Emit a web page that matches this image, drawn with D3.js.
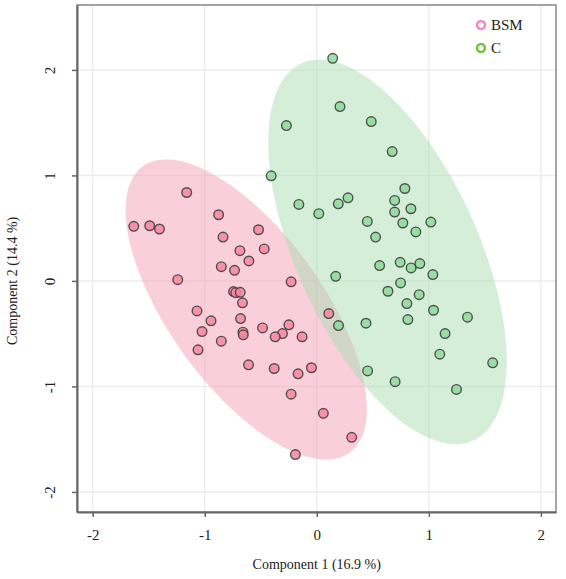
<!DOCTYPE html>
<html>
<head>
<meta charset="utf-8">
<script src="https://cdn.jsdelivr.net/npm/d3@7"></script>
<style>
  body { margin: 0; background: #fff; }
  text { font-family: "Liberation Serif", "DejaVu Serif", serif; fill: #222; }
</style>
</head>
<body>
<svg id="chart" width="566" height="579"></svg>
<script>
// group scores
var bsmX = [-1.161,-0.876,-1.633,-1.491,-1.404,-0.520,-0.837,-0.469,-0.686,-0.606,
            -0.852,-0.734,-1.241,-0.229,-0.743,-0.723,-0.683,-0.663,-1.069,-0.944,
            -0.680, 0.107,-1.024,-0.659,-0.656,-0.484,-0.249,-0.306,-0.371,-0.131,
            -0.852,-1.060,-0.609,-0.380,-0.048,-0.167,-0.229, 0.059, 0.312,-0.191];
var bsmY = [ 0.838, 0.627, 0.517, 0.523, 0.492, 0.485, 0.416, 0.303, 0.287, 0.189,
             0.135, 0.100, 0.012,-0.009,-0.101,-0.111,-0.108,-0.208,-0.284,-0.378,
            -0.357,-0.309,-0.480,-0.486,-0.511,-0.445,-0.416,-0.499,-0.530,-0.530,
            -0.571,-0.653,-0.795,-0.830,-0.823,-0.880,-1.073,-1.255,-1.482,-1.646];
var cX = [ 0.142, 0.207,-0.271, 0.486, 0.673,-0.407, 0.786,-0.160, 0.018, 0.192,
           0.279, 0.695, 0.840, 0.695, 0.451, 0.768, 1.018, 0.884, 0.525, 0.561,
           0.744, 0.842, 0.920, 1.036, 0.169, 0.748, 0.635, 0.914, 0.804, 1.042,
           1.345, 0.439, 0.813, 0.194, 1.145, 1.098, 1.570, 0.454, 0.699, 1.247];
var cY = [ 2.110, 1.652, 1.472, 1.510, 1.226, 0.996, 0.876, 0.725, 0.637, 0.731,
           0.788, 0.763, 0.684, 0.653, 0.564, 0.549, 0.558, 0.464, 0.416, 0.145,
           0.176, 0.123, 0.164, 0.060, 0.044,-0.019,-0.098,-0.130,-0.215,-0.278,
          -0.344,-0.401,-0.366,-0.423,-0.499,-0.694,-0.776,-0.853,-0.955,-1.028];

var groups = ["BSM", "C"];
var ticks = [-2, -1, 0, 1, 2];

var groupStyle = {
  BSM: {fill: "#f4869f", ell: "#f2a0b6", legend: "#f58bbf"},
  C:   {fill: "#8fd99a", ell: "#a9deb2", legend: "#7cc242"}
};

var svg = d3.select("#chart"),
    margin = {top: 5, right: 10, bottom: 67, left: 77},
    width = +svg.attr("width"),
    height = +svg.attr("height");

var x = d3.scaleLinear()
    .domain([-2.14, 2.135])
    .range([margin.left, width - margin.right]);

var y = d3.scaleLinear()
    .domain([-2.19, 2.615])
    .range([height - margin.bottom, margin.top]);

var data = [
  {group: "BSM", pts: bsmX.map((v, i) => [v, bsmY[i]])},
  {group: "C",   pts: cX.map((v, i) => [v, cY[i]])}
];

// grid
svg.append("g").selectAll("line").data(ticks).join("line")
  .attr("x1", d => x(d)).attr("x2", d => x(d))
  .attr("y1", margin.top).attr("y2", height - margin.bottom)
  .attr("stroke", "#ececec").attr("stroke-width", 1.5);
svg.append("g").selectAll("line").data(ticks).join("line")
  .attr("y1", d => y(d)).attr("y2", d => y(d))
  .attr("x1", margin.left).attr("x2", width - margin.right)
  .attr("stroke", "#ececec").attr("stroke-width", 1.5);

// 95% confidence ellipse from covariance
function ellipse(pts) {
  var n = pts.length,
      mx = d3.mean(pts, p => p[0]),
      my = d3.mean(pts, p => p[1]);
  var sxx = d3.sum(pts, p => (p[0]-mx)*(p[0]-mx)) / (n-1),
      syy = d3.sum(pts, p => (p[1]-my)*(p[1]-my)) / (n-1),
      sxy = d3.sum(pts, p => (p[0]-mx)*(p[1]-my)) / (n-1);
  var tr = sxx + syy, det = sxx*syy - sxy*sxy,
      l1 = tr/2 + Math.sqrt(tr*tr/4 - det),
      l2 = tr/2 - Math.sqrt(tr*tr/4 - det);
  var ang = Math.atan2(l1 - sxx, sxy);
  var t = Math.sqrt(-2 * Math.log(1 - 0.95));
  return d3.range(0, 361, 3).map(function(a) {
    var r = a * Math.PI / 180,
        u = t * Math.sqrt(l1) * Math.cos(r),
        v = t * Math.sqrt(l2) * Math.sin(r);
    return [mx + u*Math.cos(ang) - v*Math.sin(ang), my + u*Math.sin(ang) + v*Math.cos(ang)];
  });
}

var line = d3.line().x(d => x(d[0])).y(d => y(d[1])).curve(d3.curveLinearClosed);

svg.append("g").selectAll("path").data(data).join("path")
  .attr("d", d => line(ellipse(d.pts)))
  .attr("fill", d => groupStyle[d.group].ell)
  .attr("fill-opacity", 0.5);

// points
data.forEach(function(g) {
  svg.append("g").selectAll("circle").data(g.pts).join("circle")
    .attr("cx", d => x(d[0]))
    .attr("cy", d => y(d[1]))
    .attr("r", 4.8)
    .attr("fill", groupStyle[g.group].fill)
    .attr("fill-opacity", 0.85)
    .attr("stroke", "#3a3a3a")
    .attr("stroke-opacity", 0.85)
    .attr("stroke-width", 1.4);
});

// frame
svg.append("rect")
  .attr("x", margin.left).attr("y", margin.top)
  .attr("width", width - margin.left - margin.right)
  .attr("height", height - margin.top - margin.bottom)
  .attr("fill", "none").attr("stroke", "#888").attr("stroke-width", 1.5);

// axes
var fmt = d => String(d);
var xAxis = svg.append("g")
  .attr("transform", "translate(0," + (height - margin.bottom) + ")")
  .call(d3.axisBottom(x).tickValues(ticks).tickFormat(fmt).tickSize(5).tickSizeOuter(0));
var yAxis = svg.append("g")
  .attr("transform", "translate(" + margin.left + ",0)")
  .call(d3.axisLeft(y).tickValues(ticks).tickFormat(fmt).tickSize(5).tickSizeOuter(0));

[xAxis, yAxis].forEach(function(a) {
  a.select(".domain").attr("stroke", "#666").attr("stroke-width", 2);
  a.selectAll(".tick line").attr("stroke", "#666").attr("stroke-width", 1.5);
  a.selectAll("text").style("font-size", "15px").attr("fill", "#222");
});
xAxis.selectAll("text").attr("dy", "1.3em");
yAxis.selectAll("text")
  .attr("transform", "rotate(-90)")
  .attr("x", 0).attr("dx", 0)
  .attr("y", -27)
  .style("text-anchor", "middle");

svg.append("text")
  .attr("x", x(0)).attr("y", 569)
  .attr("text-anchor", "middle")
  .style("font-size", "14px")
  .text("Component 1 (16.9 %)");

svg.append("text")
  .attr("transform", "translate(17," + y(0) + ") rotate(-90)")
  .attr("text-anchor", "middle")
  .style("font-size", "14px")
  .text("Component 2 (14.4 %)");

// legend
var leg = svg.append("g").selectAll("g").data(groups).join("g")
  .attr("transform", (d, i) => "translate(481," + (25 + i * 23) + ")");
leg.append("circle")
  .attr("r", 4)
  .attr("fill", "none")
  .attr("stroke", d => groupStyle[d].legend)
  .attr("stroke-width", 2.6);
leg.append("text")
  .attr("x", 10).attr("y", 5)
  .style("font-size", "15px")
  .text(d => d);
</script>
</body>
</html>
